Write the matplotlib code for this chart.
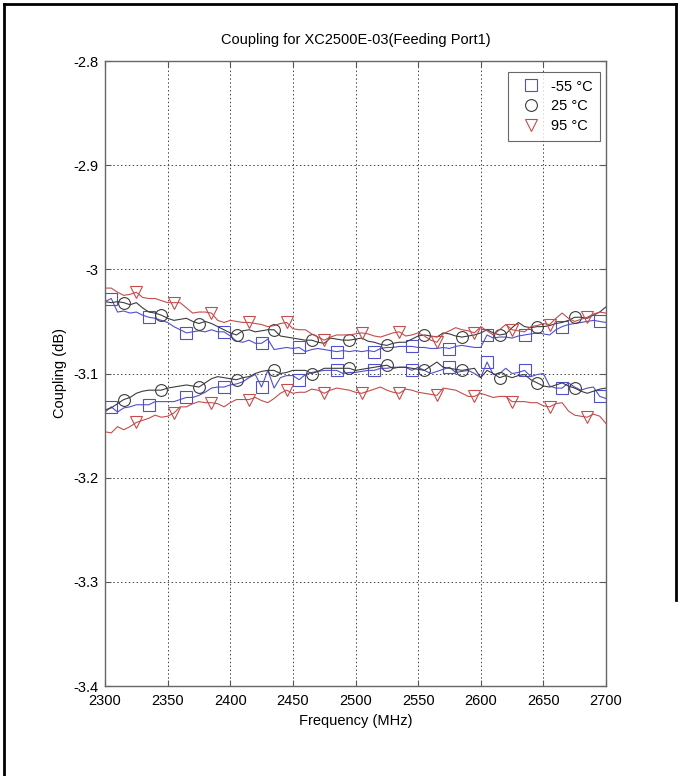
import numpy as np
import matplotlib
matplotlib.use("Agg")
import matplotlib.pyplot as plt
from matplotlib.lines import Line2D

plt.rcParams['font.family'] = ['Liberation Sans', 'DejaVu Sans']

# frequency axis, 5 MHz steps
freq = np.arange(2300, 2701, 5)

# -55 C
cold_a = [-3.031, -3.028, -3.041, -3.040, -3.042, -3.041, -3.044, -3.046, -3.047, -3.049,
          -3.051, -3.055, -3.058, -3.061, -3.060, -3.059, -3.060, -3.058, -3.060, -3.060,
          -3.064, -3.069, -3.070, -3.068, -3.071, -3.071, -3.067, -3.077, -3.076, -3.075,
          -3.076, -3.075, -3.079, -3.077, -3.076, -3.077, -3.078, -3.079, -3.078, -3.079,
          -3.078, -3.079, -3.078, -3.079, -3.076, -3.075, -3.075, -3.074, -3.074, -3.074,
          -3.075, -3.075, -3.076, -3.076, -3.075, -3.076, -3.074, -3.073, -3.074, -3.075,
          -3.075, -3.063, -3.066, -3.065, -3.065, -3.066, -3.064, -3.063, -3.062, -3.061,
          -3.062, -3.063, -3.058, -3.055, -3.053, -3.052, -3.051, -3.050, -3.049, -3.050,
          -3.051]
cold_b = [-3.137, -3.132, -3.137, -3.133, -3.132, -3.130, -3.130, -3.130, -3.127, -3.127,
          -3.127, -3.127, -3.125, -3.123, -3.123, -3.121, -3.118, -3.114, -3.113, -3.113,
          -3.111, -3.110, -3.108, -3.104, -3.101, -3.113, -3.097, -3.114, -3.104, -3.102,
          -3.102, -3.106, -3.101, -3.099, -3.098, -3.097, -3.097, -3.097, -3.100, -3.099,
          -3.099, -3.098, -3.097, -3.097, -3.095, -3.095, -3.094, -3.094, -3.094, -3.097,
          -3.094, -3.097, -3.100, -3.098, -3.096, -3.094, -3.099, -3.098, -3.097, -3.100,
          -3.104, -3.089, -3.101, -3.100, -3.095, -3.100, -3.099, -3.097, -3.103, -3.101,
          -3.100, -3.112, -3.114, -3.114, -3.109, -3.113, -3.116, -3.114, -3.113, -3.122,
          -3.124]

# 25 C
room_a = [-3.031, -3.032, -3.031, -3.032, -3.034, -3.032, -3.037, -3.041, -3.042, -3.044,
          -3.047, -3.049, -3.048, -3.047, -3.050, -3.052, -3.050, -3.052, -3.055, -3.058,
          -3.061, -3.063, -3.059, -3.058, -3.060, -3.059, -3.058, -3.058, -3.064, -3.065,
          -3.066, -3.067, -3.068, -3.068, -3.070, -3.071, -3.066, -3.067, -3.068, -3.068,
          -3.067, -3.066, -3.069, -3.070, -3.072, -3.073, -3.071, -3.070, -3.070, -3.067,
          -3.064, -3.063, -3.064, -3.065, -3.061, -3.062, -3.064, -3.065, -3.064, -3.063,
          -3.061, -3.058, -3.061, -3.063, -3.062, -3.056, -3.051, -3.055, -3.056, -3.055,
          -3.055, -3.054, -3.052, -3.051, -3.049, -3.046, -3.046, -3.047, -3.044, -3.041,
          -3.036]
room_b = [-3.135, -3.133, -3.129, -3.125, -3.123, -3.119, -3.117, -3.116, -3.116, -3.116,
          -3.114, -3.113, -3.112, -3.111, -3.112, -3.113, -3.109, -3.105, -3.103, -3.104,
          -3.105, -3.106, -3.104, -3.103, -3.100, -3.098, -3.097, -3.097, -3.100, -3.099,
          -3.097, -3.097, -3.097, -3.100, -3.098, -3.095, -3.095, -3.095, -3.095, -3.095,
          -3.097, -3.096, -3.095, -3.094, -3.093, -3.092, -3.095, -3.094, -3.094, -3.095,
          -3.096, -3.097, -3.093, -3.089, -3.094, -3.095, -3.096, -3.097, -3.096, -3.095,
          -3.104, -3.097, -3.100, -3.104, -3.102, -3.104, -3.102, -3.101, -3.106, -3.109,
          -3.112, -3.113, -3.111, -3.109, -3.112, -3.114, -3.117, -3.119, -3.117, -3.115,
          -3.114]

# 95 C
hot_a = [-3.018, -3.018, -3.022, -3.025, -3.024, -3.022, -3.027, -3.028, -3.028, -3.030,
         -3.032, -3.032, -3.032, -3.037, -3.042, -3.041, -3.041, -3.042, -3.049, -3.051,
         -3.049, -3.050, -3.051, -3.051, -3.052, -3.053, -3.055, -3.054, -3.052, -3.051,
         -3.057, -3.058, -3.058, -3.062, -3.065, -3.068, -3.065, -3.063, -3.063, -3.063,
         -3.062, -3.061, -3.062, -3.064, -3.065, -3.063, -3.061, -3.060, -3.064, -3.063,
         -3.061, -3.064, -3.068, -3.070, -3.062, -3.059, -3.056, -3.058, -3.059, -3.061,
         -3.055, -3.059, -3.063, -3.058, -3.053, -3.058, -3.059, -3.060, -3.055, -3.054,
         -3.052, -3.053, -3.047, -3.042, -3.047, -3.050, -3.048, -3.046, -3.043, -3.041,
         -3.042]
hot_b = [-3.156, -3.157, -3.151, -3.154, -3.151, -3.147, -3.145, -3.143, -3.140, -3.142,
         -3.141, -3.138, -3.132, -3.132, -3.129, -3.127, -3.128, -3.128, -3.129, -3.132,
         -3.128, -3.125, -3.125, -3.125, -3.123, -3.126, -3.128, -3.124, -3.119, -3.116,
         -3.119, -3.118, -3.118, -3.115, -3.116, -3.119, -3.116, -3.114, -3.115, -3.116,
         -3.118, -3.119, -3.117, -3.115, -3.113, -3.116, -3.118, -3.119, -3.115, -3.116,
         -3.118, -3.119, -3.120, -3.121, -3.114, -3.115, -3.116, -3.119, -3.122, -3.122,
         -3.119, -3.121, -3.123, -3.122, -3.122, -3.127, -3.127, -3.127, -3.128, -3.128,
         -3.131, -3.132, -3.129, -3.128, -3.136, -3.140, -3.141, -3.142, -3.139, -3.141,
         -3.148]

labels = ['-55 \u00b0C', '25 \u00b0C', '95 \u00b0C']
colors = ['#5050cc', '#3c3c3c', '#c44c4c']
markers = ['s', 'o', 'v']
starts = [1, 3, 5]   # marker offsets (every 30 MHz)

fig = plt.figure(figsize=(6.8, 7.76), dpi=100)
ax = fig.add_axes([105 / 680, 1 - 686 / 776, 501 / 680, 625 / 776])

series = [(cold_a, cold_b), (room_a, room_b), (hot_a, hot_b)]
handles = []
for (ya, yb), c, m, s, lab in zip(series, colors, markers, starts, labels):
    for y in (ya, yb):
        ax.plot(freq, y, color=c, lw=0.8, marker=m, markevery=(s, 6),
                ms=8.5, mfc='none', mec=c, mew=0.8)
    h, = ax.plot([], [], ls='none', marker=m, ms=8.5, mfc='none', mec=c, mew=0.8, label=lab)
    handles.append(h)

ax.set_xlim(2300, 2700)
ax.set_ylim(-3.4, -2.8)
ax.set_xticks(np.arange(2300, 2701, 50))
ax.set_yticks(np.arange(-3.4, -2.79, 0.1))
ax.set_yticklabels(['-3.4', '-3.3', '-3.2', '-3.1', '-3', '-2.9', '-2.8'])
ax.grid(True, color='#444444', ls=(0, (1.5, 2.5)), lw=0.7)
ax.tick_params(direction='in', length=4, labelsize=10.5, top=True, right=True, color='#555555')
ax.tick_params(axis='x', pad=6)
ax.tick_params(axis='y', pad=5)
for sp in ax.spines.values():
    sp.set_color('#666666')
    sp.set_linewidth(1.0)

ax.set_title('Coupling for XC2500E-03(Feeding Port1)', fontsize=10.5, pad=12)
ax.set_xlabel('Frequency (MHz)', fontsize=10.5, labelpad=4)
ax.set_ylabel('Coupling (dB)', fontsize=10.5, labelpad=4)

leg = ax.legend(handles=handles, loc='upper right', bbox_to_anchor=(0.988, 0.982),
                fontsize=10.5, frameon=True, fancybox=False, edgecolor='#444444',
                handlelength=2.1, handletextpad=0.35, borderpad=0.5, labelspacing=0.4,
                borderaxespad=0)
leg.get_frame().set_linewidth(0.8)

# outer border: top, left and right sides
fig.add_artist(Line2D([4 / 680, 4 / 680], [0, 1 - 4 / 776], transform=fig.transFigure, color='black', lw=2))
fig.add_artist(Line2D([4 / 680, 676 / 680], [1 - 4 / 776, 1 - 4 / 776], transform=fig.transFigure, color='black', lw=2))
fig.add_artist(Line2D([676 / 680, 676 / 680], [1 - 4 / 776, 1 - 600 / 776], transform=fig.transFigure, color='black', lw=2))

fig.savefig('out.png', dpi=100)
